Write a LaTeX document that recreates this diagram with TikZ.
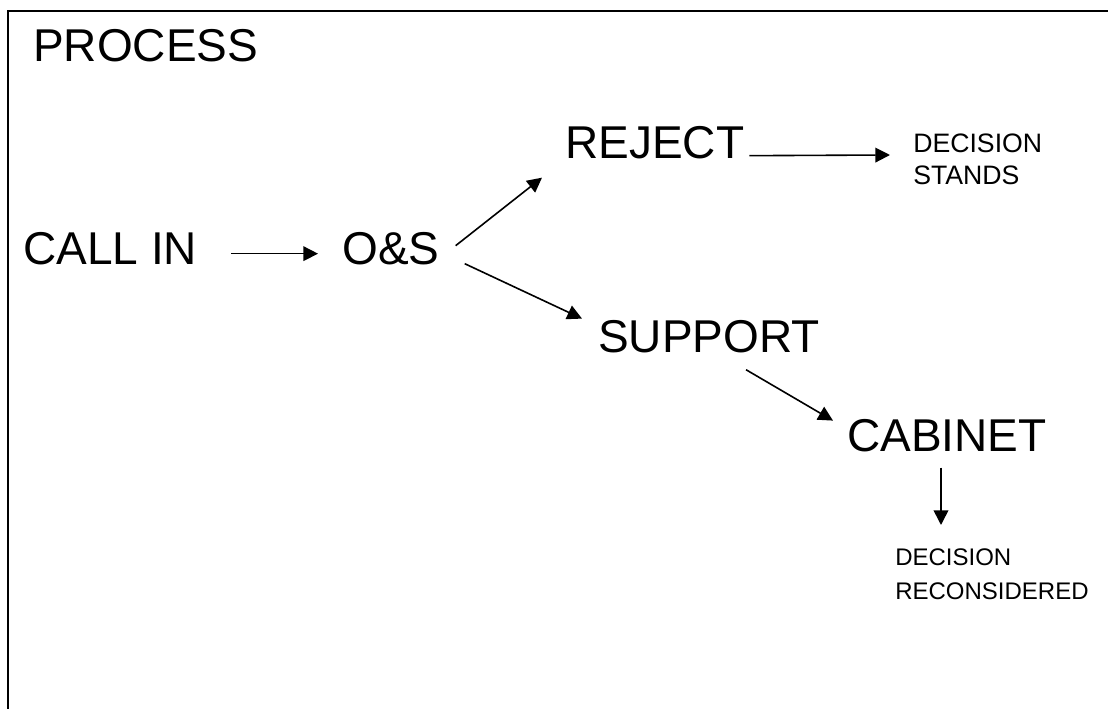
\documentclass[tikz,border=0pt]{standalone}
\usepackage{fontspec}
\setmainfont{Liberation Sans}
\usetikzlibrary{arrows.meta,calc}

\tikzset{
  big/.style={inner sep=0pt, anchor=base west, font=\fontsize{34.5}{41}\selectfont},
  small/.style={inner sep=0pt, anchor=north west, align=left, font=\fontsize{20}{24}\selectfont},
  smaller/.style={small, font=\fontsize{18}{25.5}\selectfont},
  flow/.style={-{Triangle[length=11pt,width=11pt]}, line width=1.2pt},
}

\begin{document}
\begin{tikzpicture}[x=0.75pt,y=0.75pt]
  \useasboundingbox (0,0) rectangle (1108,-709);
  \clip (0,0) rectangle (1108,-709);
  % frame runs off the page on the right and at the bottom
  \draw[line width=1.5pt] (8,-720) |- (1120,-11);

  \node[big] (title) at (33,-62) {PROCESS};
  \node[big] (callin) at (23,-265) {CALL IN};
  \node[big] (ons) at (342,-265) {O\&S};
  \node[big] (reject) at (565,-159) {REJECT};
  \node[big] (support) at (598,-353) {SUPPORT};
  \node[big] (cabinet) at (847,-452) {CABINET};
  \node[small] (stands) at (913,-134) {DECISION\\STANDS};
  \node[smaller] (recon) at (895,-548) {DECISION\\RECONSIDERED};

  \draw[flow] ($(callin.east)+(34,-4.5)$) -- ($(ons.west)+(-24,-4.5)$);
  \draw[flow] ($(ons.east)+(16,3.5)$) -- ($(reject.west)+(-23,-34.5)$);
  \draw[flow] ($(ons.east)+(25,-14.5)$) -- ($(support.north west)+(-16,2)$);
  \draw[flow] ($(reject.east)+(5,-12.5)$) -- ($(stands.north west)+(-23,-21)$);
  \draw[flow] ($(support.south)+(37,-16)$) -- ($(cabinet.north west)+(-14,-1)$);
  \draw[flow] ($(cabinet.south west)+(94,-15)$) -- ($(recon.north west)+(46,23)$);
\end{tikzpicture}
\end{document}
